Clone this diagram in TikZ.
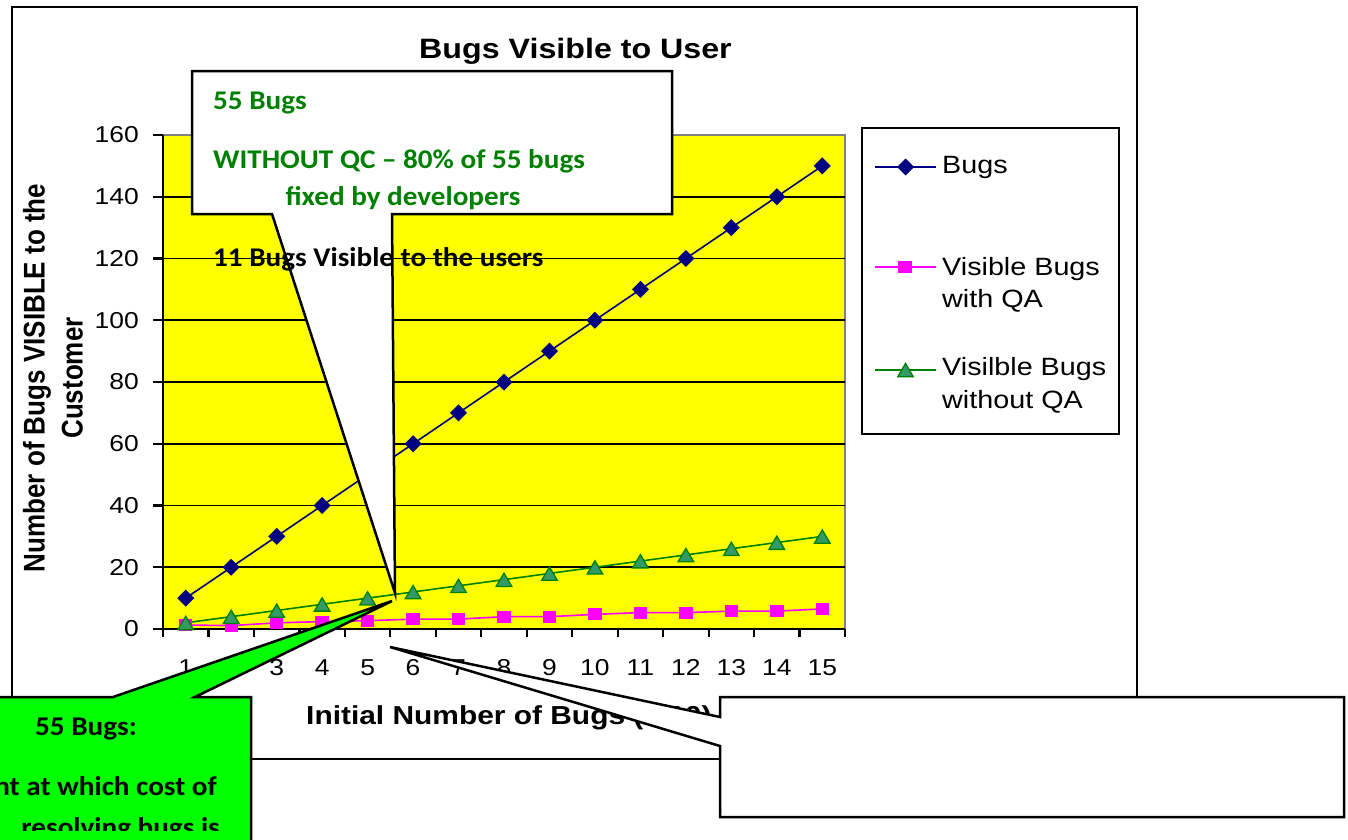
\documentclass[tikz,border=0pt]{standalone}
\usepackage{fontspec}
\usepackage{graphicx}
\setmainfont{Liberation Sans}
\newfontfamily\calfont{Carlito}
\definecolor{navyc}{RGB}{0,0,128}
\definecolor{magc}{RGB}{255,0,255}
\definecolor{grnl}{RGB}{0,128,0}
\definecolor{grnf}{RGB}{51,153,102}
\definecolor{calgreen}{RGB}{0,255,0}
\definecolor{txtgreen}{RGB}{0,128,0}
\definecolor{plotyellow}{RGB}{255,255,0}
\newcommand{\hs}[1]{\scalebox{1.15}[1]{#1}}
\newcommand{\vs}[1]{\scalebox{1}[1.15]{#1}}
\newcommand{\hc}[1]{\scalebox{1.08}[1]{#1}}
\tikzset{
  frameline/.style={draw=black, line width=2pt},
  gridline/.style={draw=black, line width=1.9pt},
  axisline/.style={draw=black, line width=2.2pt},
  seriesline/.style={line width=1.6pt},
  callshape/.style={draw=black, line width=2.5pt, line join=miter},
  titlefont/.style={inner sep=0pt, font=\fontsize{28}{34}\selectfont\bfseries},
  ticklab/.style={inner sep=0pt, font=\fontsize{23}{28}\selectfont},
  axtitle/.style={inner sep=0pt, font=\fontsize{26}{38}\selectfont\bfseries},
  legtext/.style={inner sep=0pt, font=\fontsize{25}{30}\selectfont},
  calltext/.style={inner sep=0pt, font=\calfont\fontsize{27}{32}\selectfont\bfseries},
}
\begin{document}
\begin{tikzpicture}[x=1pt,y=-1pt]
\useasboundingbox (0,0) rectangle (1348,839);
\clip (0,0) rectangle (1348,839);
\fill[white] (0,0) rectangle (1348,839);
% outer chart frame
\draw[frameline, fill=white] (12,7) rectangle (1137,759);
\node[titlefont, anchor=base] (title) at (575.5,58) {\hs{Bugs Visible to User}};
% plot area
\fill[plotyellow] (163,135) rectangle (845,629);
\draw[draw=gray, line width=2pt] (163,135) -- (845,135) -- (845,629);
\foreach \v in {1,...,7} \draw[gridline] (163,{629-\v*61.75}) -- (845,{629-\v*61.75});
\draw[axisline] (163,135) -- (163,637);
\draw[axisline] (163,629) -- (845,629);
\foreach \v in {0,...,8} \draw[axisline] (153,{629-\v*61.75}) -- (163,{629-\v*61.75});
\foreach \k in {0,...,15} \draw[axisline] ({163+\k*45.4667},629) -- ({163+\k*45.4667},637);
% series coordinates
\foreach \i in {1,...,15} {
  \coordinate (b\i) at ({163+(\i-0.5)*45.4667},{629-\i*30.875});
  \coordinate (g\i) at ({163+(\i-0.5)*45.4667},{629-\i*6.175});
}
\foreach \v [count=\i] in {1.3,1.1,2.0,2.4,2.7,3.2,3.2,4.0,4.0,4.75,5.3,5.3,5.8,5.8,6.5}
  \coordinate (q\i) at ({163+(\i-0.5)*45.4667},{629-\v*3.0875});
\draw[seriesline, navyc] (b1) \foreach \i in {2,...,15}{ -- (b\i)};
\draw[seriesline, magc] (q1) \foreach \i in {2,...,15}{ -- (q\i)};
\draw[seriesline, grnl] (g1) \foreach \i in {2,...,15}{ -- (g\i)};
\foreach \i in {1,...,15} {
  \fill[navyc] (b\i) ++(-8.5,0) -- ++(8.5,-8.5) -- ++(8.5,8.5) -- ++(-8.5,8.5) -- cycle;
  \fill[magc] (q\i) ++(-6.7,-6) rectangle ++(13.4,12);
  \filldraw[fill=grnf, draw=grnl, line width=1.3pt] (g\i) ++(-7.8,6.8) -- ++(15.6,0) -- ++(-7.8,-13.3) -- cycle;
}
% tick labels
\foreach \v in {0,20,...,160} \node[ticklab, anchor=east] (y\v) at (139,{629-\v*3.0875}) {\hs{\v}};
\foreach \i in {1,...,15} \node[ticklab] (x\i) at ({163+(\i-0.5)*45.4667},667.5) {\hs{\i}};
% axis titles
\node[axtitle, rotate=90, align=center] (ytitle) at (53,378) {\vs{Number of Bugs VISIBLE to the}\\\vs{Customer}};
\node[axtitle, anchor=base west] (xtitle) at (306,724) {\hs{Initial Number of Bugs (x 10)}};
% legend
\draw[frameline, fill=white] (862,128) rectangle (1119,434);
\draw[seriesline, navyc] (875,167) -- (936,167);
\fill[navyc] (905.5,167) ++(-8.5,0) -- ++(8.5,-8.5) -- ++(8.5,8.5) -- ++(-8.5,8.5) -- cycle;
\draw[seriesline, magc] (875,267) -- (936,267);
\fill[magc] (905,267) ++(-6.7,-6) rectangle ++(13.4,12);
\draw[seriesline, grnl] (875,370) -- (936,370);
\filldraw[fill=grnf, draw=grnl, line width=1.3pt] (905.5,370) ++(-7.8,6.8) -- ++(15.6,0) -- ++(-7.8,-13.3) -- cycle;
\node[legtext, anchor=base west] (l1) at (942,173) {\hs{Bugs}};
\node[legtext, anchor=base west] (l2a) at (942,275) {\hs{Visible Bugs}};
\node[legtext, anchor=base west] (l2b) at (942,307.5) {\hs{with QA}};
\node[legtext, anchor=base west] (l3a) at (942,375.5) {\hs{Visilble Bugs}};
\node[legtext, anchor=base west] (l3b) at (942,408.5) {\hs{without QA}};
% top callout
\filldraw[callshape, fill=white] (192,71) -- (672,71) -- (672,214) -- (392,214) -- (395,593) -- (272,214) -- (192,214) -- cycle;
\node[calltext, text=txtgreen, anchor=base west] (c1a) at (213,109.3) {\hc{55 Bugs}};
\node[calltext, text=txtgreen, anchor=base west] (c1b) at (213,168) {\hc{WITHOUT QC – 80\% of 55 bugs}};
\node[calltext, text=txtgreen, anchor=base] (c1c) at (403,205.5) {\hc{fixed by developers}};
\node[calltext, anchor=base west] (c1d) at (213,266.7) {\hc{11 Bugs Visible to the users}};
% green callout
\filldraw[callshape, fill=calgreen] (-10,697) -- (113,697) -- (392,601) -- (195,697) -- (251,697) -- (251,850) -- (-10,850) -- cycle;
\node[calltext, anchor=base] (c2a) at (86,735) {\hc{55 Bugs:}};
\node[calltext, anchor=base east] (c2b) at (217,795) {\hc{nt at which cost of}};
\begin{scope}
\clip (0,0) rectangle (249,830);
\node[calltext, anchor=base east] (c2c) at (220,836) {\hc{resolving bugs is}};
\end{scope}
% right callout
\filldraw[callshape, fill=white] (720,697) -- (1344,697) -- (1344,817) -- (720,817) -- (720,746) -- (390,647) -- (720,717) -- cycle;
\end{tikzpicture}
\end{document}
